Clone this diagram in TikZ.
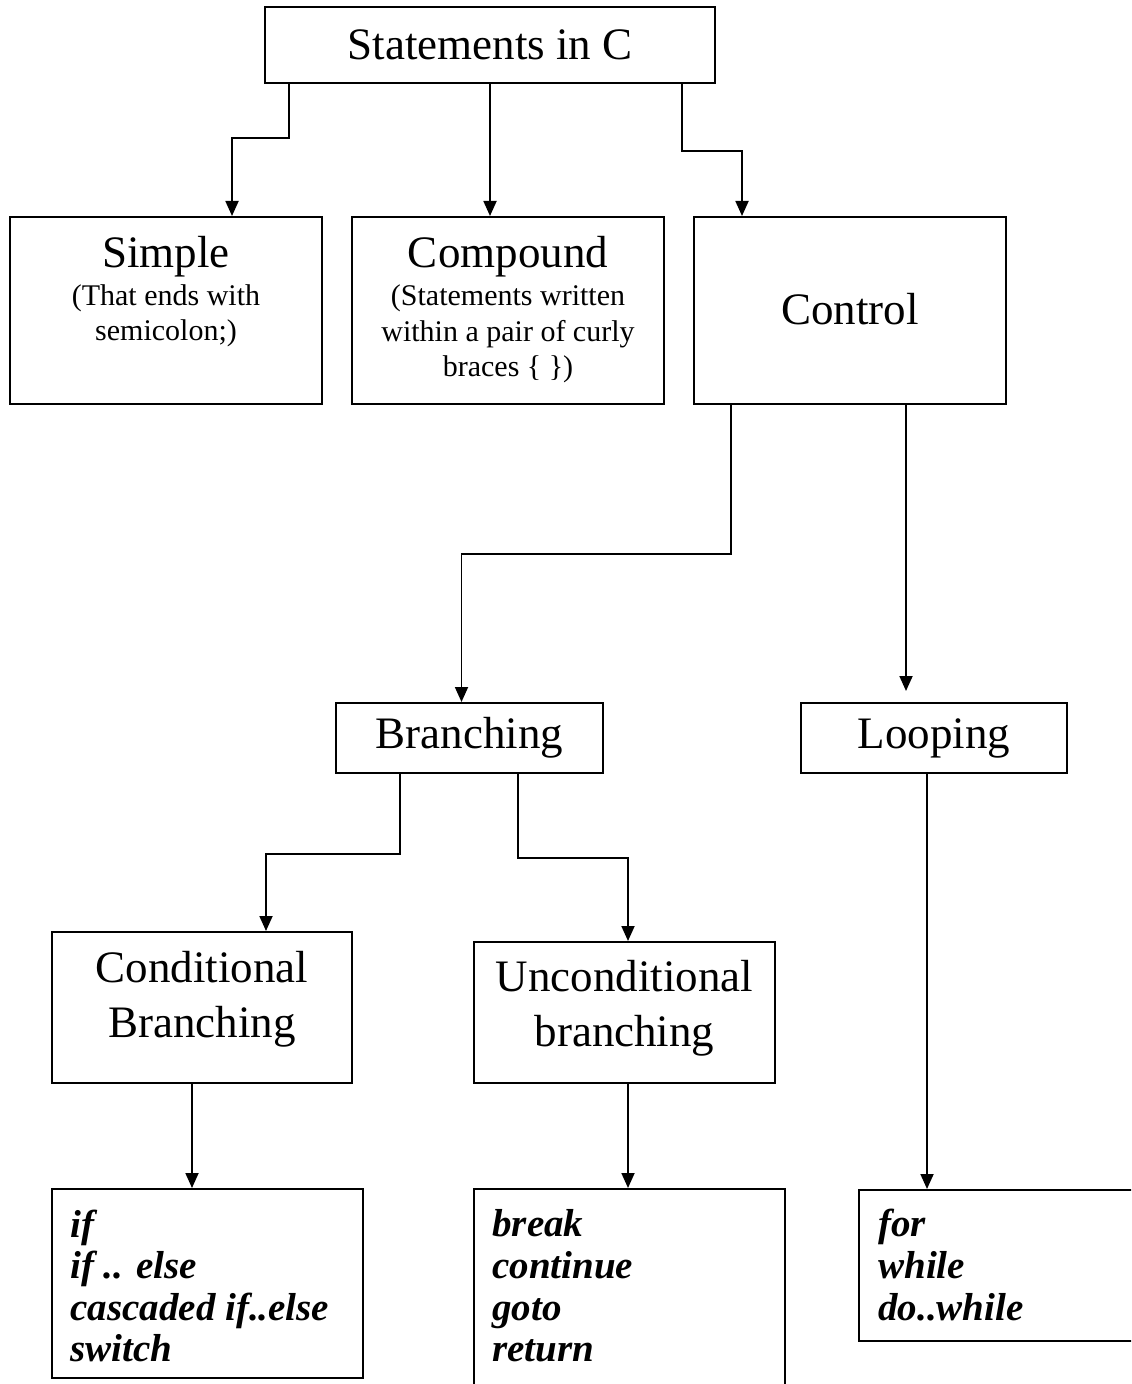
\documentclass[tikz,border=0pt]{standalone}
\usepackage{fontspec}
\setmainfont{Liberation Serif}
\usetikzlibrary{arrows.meta,calc}

\tikzset{
  box/.style={draw, line width=1pt, inner sep=0pt, fill=white},
  big/.style={font=\fontsize{22.5}{27.5}\selectfont, align=center, inner sep=0pt},
  small/.style={font=\fontsize{15}{17.75}\selectfont, align=center, inner sep=0pt},
  list/.style={font=\fontsize{19.5}{20.8}\selectfont\bfseries\itshape, align=left, inner sep=0pt, anchor=west},
  arr/.style={draw, line width=0.9pt, -{Triangle[length=7.5pt,width=6.5pt]}}
}

\begin{document}
\begin{tikzpicture}[x=0.5pt,y=-0.5pt]
\path[use as bounding box, clip] (0,0) rectangle (1131,1384);

% boxes
\node[box, big, minimum width=225pt, minimum height=38pt] (top) at (490,45) {Statements in C};
\node[box, minimum width=156pt, minimum height=93.5pt] (simple) at (166,310.5) {};
\node[box, minimum width=156pt, minimum height=93.5pt] (compound) at (508,310.5) {};
\node[box, big, minimum width=156pt, minimum height=93.5pt] (control) at (850,310.5) {\raisebox{2pt}{Control}};
\node[box, big, minimum width=133.5pt, minimum height=35pt] (branching) at (469.5,738) {Branching};
\node[box, big, minimum width=133pt, minimum height=35pt] (looping) at (934,738) {Looping};
\node[box, minimum width=150pt, minimum height=75.5pt] (cond) at (202,1007.5) {};
\node[box, minimum width=150.5pt, minimum height=70.5pt] (uncond) at (624.5,1012.5) {};
\node[box, minimum width=155.5pt, minimum height=94.5pt] (iflist) at (207.5,1283.5) {};
\node[box, minimum width=155.5pt, minimum height=105.5pt] (breaklist) at (629.5,1294.5) {};
\node[box, minimum width=143pt, minimum height=75.5pt] (forlist) at (1002,1265.5) {};

% texts inside boxes
\node[big] (simpleT) at (166,257) {Simple};
\node[small] (simpleS) at (166,316) {(That ends with\\semicolon;)};
\node[big] (compoundT) at (508,257) {Compound};
\node[small] (compoundS) at (508,334) {(Statements written\\within a pair of curly\\braces \{ \})};
\node[big] (condT) at (202,999) {Conditional\\Branching};
\node[big] (uncondT) at (624.5,1008) {Unconditional\\branching};
\node[list] (ifT) at (70,1286) {if\\if .. else\\cascaded if..else\\switch};
\node[list] (breakT) at (492,1286) {break\\continue\\goto\\return};
\node[list] (forT) at (878,1265) {for\\while\\do..while};

% connectors
\draw[arr] ($(top.south west)+(25,0)$) -- ++(0,54) -| ($(simple.north)+(66,0)$);
\draw[arr] (top.south) -- (top.south |- compound.north);
\draw[arr] ($(top.south east)+(-34,0)$) -- ++(0,67) -| ($(control.north west)+(49,0)$);

\draw[arr] ($(control.south west)+(38,0)$) -- ++(0,149) -| ($(branching.north)+(-8,0)$);
\coordinate (lp) at ($(control.south)+(56,0)$);
\draw[arr, shorten >=5.5pt] (lp) -- (lp |- looping.north);

\draw[arr] ($(branching.south west)+(65,0)$) -- ++(0,80) -| ($(cond.north)+(64,0)$);
\draw[arr] ($(branching.south west)+(183,0)$) -- ++(0,84) -| ($(uncond.north)+(3.5,0)$);

\coordinate (cd) at ($(cond.south)+(-10,0)$);
\draw[arr] (cd) -- (cd |- iflist.north);
\coordinate (ud) at ($(uncond.south)+(3.5,0)$);
\draw[arr] (ud) -- (ud |- breaklist.north);
\coordinate (ld) at ($(looping.south)+(-7,0)$);
\draw[arr] (ld) -- (ld |- forlist.north);
\end{tikzpicture}
\end{document}
